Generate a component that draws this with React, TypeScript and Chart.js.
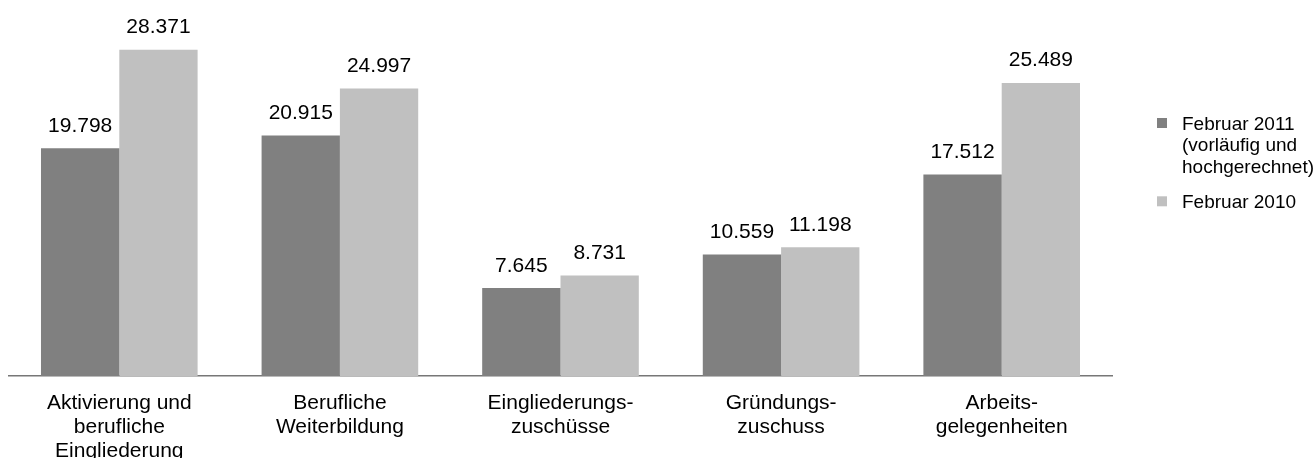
import React, { useEffect, useRef } from 'react';
import { Chart, registerables } from 'chart.js';

Chart.register(...registerables);

const categories: string[][] = [
  ['Aktivierung und', 'berufliche', 'Eingliederung'],
  ['Berufliche', 'Weiterbildung'],
  ['Eingliederungs-', 'zuschüsse'],
  ['Gründungs-', 'zuschuss'],
  ['Arbeits-', 'gelegenheiten'],
];
const seriesNames: string[][] = [
  ['Februar 2011', '(vorläufig und', 'hochgerechnet)'],
  ['Februar 2010'],
];
const feb2011 = [19798, 20915, 7645, 10559, 17512];
const feb2010 = [28371, 24997, 8731, 11198, 25489];
const yMax = 30000;

const COLORS = ['#808080', '#c0c0c0'];
const FONT = "'Liberation Sans', Arial, sans-serif";

function fmt(v: number): string {
  const s = String(Math.round(v));
  return s.replace(/\B(?=(\d{3})+(?!\d))/g, '.');
}

const valueLabels = {
  id: 'valueLabels',
  afterDatasetsDraw(chart: any) {
    const ctx = chart.ctx;
    ctx.save();
    ctx.font = `21px ${FONT}`;
    ctx.fillStyle = '#000';
    ctx.textAlign = 'center';
    ctx.textBaseline = 'alphabetic';
    chart.data.datasets.forEach((ds: any, i: number) => {
      const meta = chart.getDatasetMeta(i);
      meta.data.forEach((bar: any, j: number) => {
        ctx.fillText(fmt(ds.data[j]), bar.x, bar.y - 16.5);
      });
    });
    ctx.restore();
  },
};

const sideLegend = {
  id: 'sideLegend',
  afterDraw(chart: any) {
    const ctx = chart.ctx;
    const area = chart.chartArea;
    const boxX = area.right + 45;
    const textX = boxX + 25;
    const baselines = [area.top + 99, area.top + 177.3];
    ctx.save();
    ctx.font = `19px ${FONT}`;
    ctx.textAlign = 'left';
    ctx.textBaseline = 'alphabetic';
    seriesNames.forEach((lines, i) => {
      const b = baselines[i];
      ctx.fillStyle = COLORS[i];
      ctx.fillRect(boxX, b - 12, 10, 10);
      ctx.fillStyle = '#000';
      lines.forEach((line, k) => {
        ctx.fillText(line, textX, b + k * 21.3);
      });
    });
    ctx.restore();
  },
};

export default function App() {
  const ref = useRef<HTMLCanvasElement | null>(null);

  useEffect(() => {
    if (!ref.current) return;
    const chart = new Chart(ref.current, {
      type: 'bar',
      data: {
        labels: categories,
        datasets: [
          {
            label: seriesNames[0].join(' '),
            data: feb2011,
            backgroundColor: COLORS[0],
            borderWidth: 0,
          },
          {
            label: seriesNames[1].join(' '),
            data: feb2010,
            backgroundColor: COLORS[1],
            borderWidth: 0,
          },
        ],
      },
      options: {
        animation: false,
        responsive: true,
        maintainAspectRatio: false,
        layout: { padding: { left: 9, right: 202, top: 31, bottom: 0 } },
        datasets: {
          bar: { categoryPercentage: 0.71, barPercentage: 1 },
        },
        plugins: {
          legend: { display: false },
          tooltip: { enabled: false },
        },
        scales: {
          x: {
            grid: { display: false, drawTicks: false },
            border: { display: true, color: '#777777', width: 1.5 },
            ticks: {
              color: '#000',
              padding: 15,
              maxRotation: 0,
              autoSkip: false,
              font: { family: FONT, size: 21, lineHeight: 24 / 21 },
            },
          },
          y: {
            display: false,
            min: 0,
            max: yMax,
          },
        },
      },
      plugins: [valueLabels, sideLegend],
    });
    return () => chart.destroy();
  }, []);

  return (
    <div style={{ position: 'absolute', left: 0, top: 0, width: 1314, height: 478, background: '#fff' }}>
      <canvas ref={ref} />
    </div>
  );
}
